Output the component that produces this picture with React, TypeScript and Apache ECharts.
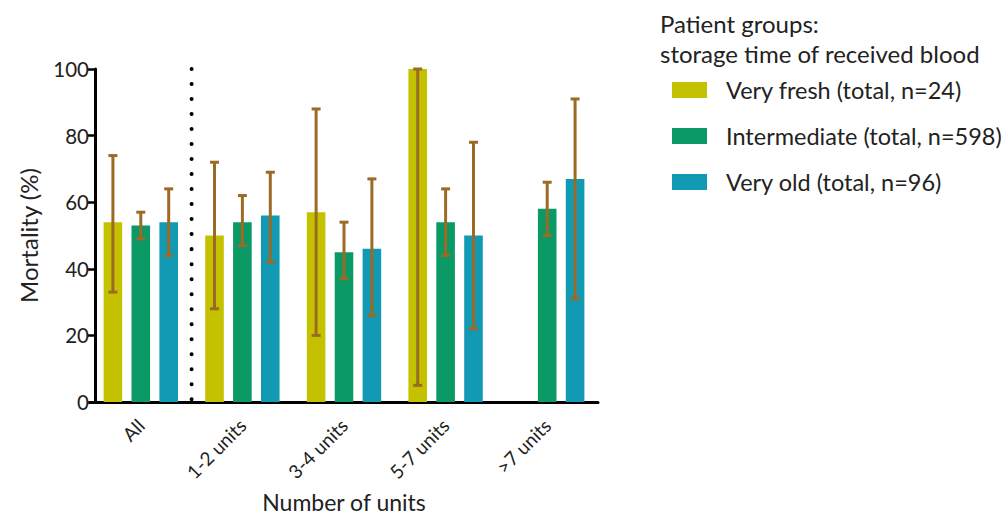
import React, { useEffect, useRef } from "react";
import * as echarts from "echarts";

// Mortality (%) by number of units transfused, split by storage time of blood
const categories = ["All", "1-2 units", "3-4 units", "5-7 units", ">7 units"];
const seriesNames = [
  "Very fresh (total, n=24)",
  "Intermediate (total, n=598)",
  "Very old (total, n=96)",
];
const veryFresh = [54, 50, 57, 100, null];
const intermediate = [53, 54, 45, 54, 58];
const veryOld = [54, 56, 46, 50, 67];

// Error ranges [low, high] per category
const veryFreshErr = [[33, 74], [28, 72], [20, 88], [5, 100], null];
const intermediateErr = [[49, 57], [47, 62], [37, 54], [44, 64], [50, 66]];
const veryOldErr = [[44, 64], [42, 69], [26, 67], [22, 78], [31, 91]];

const yTicks = [0, 20, 40, 60, 80, 100];

const colors = ["#C4C200", "#0B9966", "#1299B4"];
const errColor = "#9B6A24";
const FONT = "Lato";
const TEXT = "#222";

export default function App() {
  const ref = useRef<HTMLDivElement>(null);

  useEffect(() => {
    if (!ref.current) return;
    const chart = echarts.init(ref.current, null, { renderer: "svg" });

    const barFrac = 0.183; // bar width as fraction of category band
    const pitchFrac = barFrac * 1.5;

    const errSeries = (errs: (number[] | null)[], slot: number) => ({
      type: "custom",
      silent: true,
      z: 5,
      data: errs
        .map((e, i) => (e ? [i, e[0], e[1]] : null))
        .filter((d) => d !== null),
      renderItem: (params: any, api: any) => {
        const i = api.value(0);
        const lo = api.coord([i, api.value(1)]);
        const hi = api.coord([i, api.value(2)]);
        const band = api.size([1, 0])[0];
        const x = lo[0] + slot * band * pitchFrac;
        const half = 4.5;
        const style = { stroke: errColor, lineWidth: 3 };
        return {
          type: "group",
          children: [
            { type: "line", shape: { x1: x, y1: hi[1], x2: x, y2: lo[1] }, style },
            { type: "line", shape: { x1: x - half, y1: hi[1], x2: x + half, y2: hi[1] }, style },
            { type: "line", shape: { x1: x - half, y1: lo[1], x2: x + half, y2: lo[1] }, style },
          ],
        };
      },
    });

    const option: any = {
      animation: false,
      textStyle: { fontFamily: FONT },
      title: {
        text: "Patient groups:\nstorage time of received blood",
        left: 660,
        top: 8,
        padding: 0,
        textStyle: {
          fontFamily: FONT,
          fontSize: 24,
          fontWeight: "normal",
          color: TEXT,
          lineHeight: 30,
        },
      },
      legend: {
        orient: "vertical",
        left: 672,
        top: 78,
        padding: 0,
        itemWidth: 35,
        itemHeight: 16,
        itemGap: 22,
        icon: "rect",
        data: seriesNames,
        textStyle: {
          fontFamily: FONT,
          fontSize: 23.5,
          color: TEXT,
          padding: [0, 0, 0, 14],
        },
      },
      grid: {
        left: 90,
        right: 410,
        top: 69,
        bottom: 115,
        containLabel: false,
        outerBoundsMode: "none",
      },
      xAxis: {
        type: "category",
        data: categories,
        axisLine: { show: true, lineStyle: { color: "#000", width: 3 } },
        axisTick: { show: false },
        axisLabel: {
          rotate: 45,
          fontSize: 19,
          color: TEXT,
          margin: 20,
          fontFamily: FONT,
        },
        name: "Number of units",
        nameLocation: "middle",
        nameGap: 88,
        nameTextStyle: { fontSize: 23, lineHeight: 24, color: TEXT, fontFamily: FONT },
      },
      yAxis: {
        type: "value",
        min: yTicks[0],
        max: yTicks[yTicks.length - 1],
        interval: 20,
        offset: -5,
        axisLine: { show: true, lineStyle: { color: "#000", width: 3 } },
        axisTick: { show: true, length: 8, lineStyle: { color: "#000", width: 2.5 } },
        splitLine: { show: false },
        axisLabel: { fontSize: 20.5, color: TEXT, margin: 6, fontFamily: FONT },
        name: "Mortality (%)",
        nameLocation: "middle",
        nameGap: 55,
        nameRotate: 90,
        nameTextStyle: { fontSize: 24, color: TEXT, fontFamily: FONT },
      },
      series: [
        {
          name: seriesNames[0],
          type: "bar",
          data: veryFresh,
          barWidth: (barFrac * 100).toFixed(1) + "%",
          barGap: "50%",
          itemStyle: { color: colors[0] },
        },
        {
          name: seriesNames[1],
          type: "bar",
          data: intermediate,
          barWidth: (barFrac * 100).toFixed(1) + "%",
          barGap: "50%",
          itemStyle: { color: colors[1] },
        },
        {
          name: seriesNames[2],
          type: "bar",
          data: veryOld,
          barWidth: (barFrac * 100).toFixed(1) + "%",
          barGap: "50%",
          itemStyle: { color: colors[2] },
        },
        errSeries(veryFreshErr, -1),
        errSeries(intermediateErr, 0),
        errSeries(veryOldErr, 1),
        {
          // dotted separator between the overall group and the unit groups
          type: "custom",
          silent: true,
          data: [[0]],
          renderItem: (params: any, api: any) => {
            const bottom = api.coord([0, yTicks[0]]);
            const top = api.coord([0, yTicks[yTicks.length - 1]]);
            const x = bottom[0] + api.size([1, 0])[0] / 2;
            return {
              type: "line",
              shape: { x1: x, y1: top[1], x2: x, y2: bottom[1] },
              style: {
                stroke: "#000",
                lineWidth: 4,
                lineCap: "round",
                lineDash: [0.01, 15],
              },
            };
          },
        },
      ],
    };

    chart.setOption(option);
    return () => chart.dispose();
  }, []);

  return (
    <div
      ref={ref}
      style={{ position: "fixed", left: 0, top: 0, width: 1008, height: 517, background: "#fff" }}
    />
  );
}
